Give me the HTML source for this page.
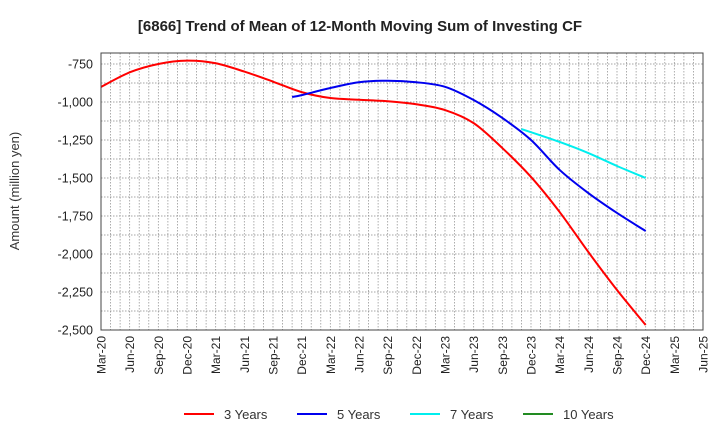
<!DOCTYPE html>
<html><head><meta charset="utf-8"><style>
body{margin:0;background:#fff}
svg{font-family:"Liberation Sans",sans-serif;display:block}
</style></head><body>
<svg id="chart" width="720" height="440" viewBox="0 0 720 440" xmlns="http://www.w3.org/2000/svg">
<text x="360" y="31" text-anchor="middle" font-size="15" font-weight="bold" fill="#222">[6866]  Trend of Mean of 12-Month Moving Sum of Investing CF</text>
<text transform="translate(19,191) rotate(-90)" text-anchor="middle" font-size="13" fill="#333">Amount (million yen)</text>
<g id="grid"></g>
<g id="series"></g>
<rect x="101" y="53" width="602" height="277" fill="none" stroke="#444" stroke-width="1"/>
<g id="yticks"></g>
<g id="xticks"></g>
<g id="legend"></g>
</svg>
<script>
const xLabels=["Mar-20","Jun-20","Sep-20","Dec-20","Mar-21","Jun-21","Sep-21","Dec-21","Mar-22","Jun-22","Sep-22","Dec-22","Mar-23","Jun-23","Sep-23","Dec-23","Mar-24","Jun-24","Sep-24","Dec-24","Mar-25","Jun-25"];
const yTicks=[-750,-1000,-1250,-1500,-1750,-2000,-2250,-2500];
const seriesNames=["3 Years","5 Years","7 Years","10 Years"];
const seriesColors=["#ff0000","#0000ee","#00eeee","#228b22"];
// month index since Mar-20
const m3=[0,3,6,9,12,15,18,21,24,27,30,33,36,39,42,45,48,51,54,57];
const v3=[-901,-805,-750,-728,-745,-800,-866,-935,-974,-985,-995,-1015,-1053,-1139,-1303,-1493,-1724,-1987,-2237,-2467];
const m5=[20,21,24,27,30,33,36,39,42,45,48,51,54,57];
const v5=[-967,-955,-908,-870,-860,-870,-900,-987,-1105,-1250,-1447,-1599,-1730,-1849];
const m7=[44,48,51,54,57];
const v7=[-1178,-1263,-1336,-1421,-1500];
const m10=[];
const v10=[];
const NS="http://www.w3.org/2000/svg";
const L=101,R=703,T=53,B=330,MMAX=63,YMIN=-2500,YMAX=-2500+(B-T)/38*250;
const xs=m=>L+m*(R-L)/MMAX;
const ys=v=>B-(v-YMIN)*(B-T)/(YMAX-YMIN);
function mk(tag,attrs,parent){const e=document.createElementNS(NS,tag);for(const k in attrs)e.setAttribute(k,attrs[k]);parent.appendChild(e);return e;}
const grid=document.getElementById('grid');
for(let m=1;m<MMAX;m++){const l=mk('line',{x1:xs(m),x2:xs(m),y1:T,y2:B,stroke:'#999','stroke-width':0.8,'stroke-dasharray':'1.5,1.5'},grid);

}
for(let v=-2375;v<YMAX;v+=125){const l=mk('line',{x1:L,x2:R,y1:ys(v),y2:ys(v),stroke:'#888','stroke-width':0.8,'stroke-dasharray':'1.5,1.5'},grid);

}
const yt=document.getElementById('yticks');
yTicks.forEach(v=>{const t=mk('text',{x:93,y:ys(v)+4.5,'text-anchor':'end','font-size':12.5,fill:'#222'},yt);t.textContent=v.toLocaleString('en-US');

});
const xt=document.getElementById('xticks');
xLabels.forEach((s,i)=>{const x=xs(i*3);const t=mk('text',{transform:`translate(${x+4.5},336) rotate(-90)`,'text-anchor':'end','font-size':12,fill:'#222'},xt);t.textContent=s;

});
function smooth(pts){if(pts.length<2)return'';let d=`M${pts[0][0]},${pts[0][1]}`;for(let i=0;i<pts.length-1;i++){const p0=pts[i-1]||pts[i],p1=pts[i],p2=pts[i+1],p3=pts[i+2]||p2;
const c1=[p1[0]+(p2[0]-p0[0])/6,p1[1]+(p2[1]-p0[1])/6],c2=[p2[0]-(p3[0]-p1[0])/6,p2[1]-(p3[1]-p1[1])/6];d+=` C${c1[0]},${c1[1]} ${c2[0]},${c2[1]} ${p2[0]},${p2[1]}`;}return d;}
const sg=document.getElementById('series');
[[m3,v3],[m5,v5],[m7,v7],[m10,v10]].forEach(([ms,vs],k)=>{if(!ms.length)return;const p=mk('path',{d:smooth(ms.map((m,i)=>[xs(m),ys(vs[i])])),fill:'none',stroke:seriesColors[k],'stroke-width':2},sg);

});
const lg=document.getElementById('legend');
const lx=[184,297,410,523];
seriesNames.forEach((n,k)=>{const g=mk('g',{},lg);


mk('line',{x1:lx[k],x2:lx[k]+30,y1:414,y2:414,stroke:seriesColors[k],'stroke-width':2},g);
const t=mk('text',{x:lx[k]+40,y:419,'font-size':13,fill:'#333'},g);t.textContent=n;});
</script>
</body></html>
